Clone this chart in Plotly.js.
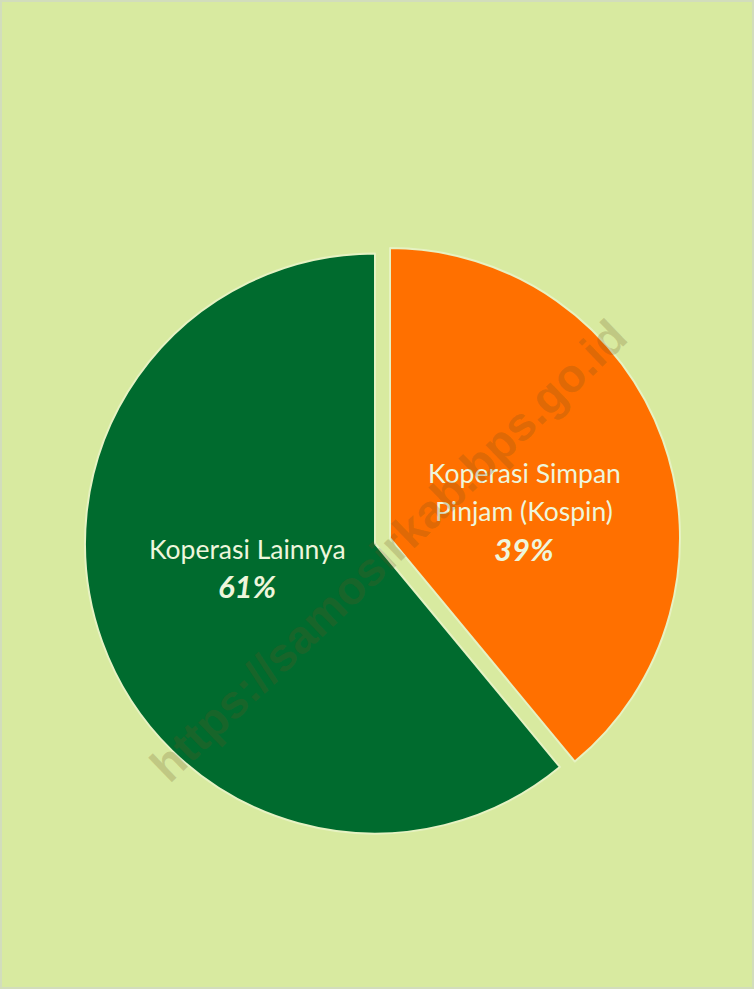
<!DOCTYPE html>
<html>
<head>
<meta charset="utf-8">
<script src="https://cdn.plot.ly/plotly-3.0.1.min.js"></script>
<style>html,body{margin:0;padding:0;background:#d8eaa0;}</style>
</head>
<body>
<div id="chart" style="width:754px;height:989px;"></div>
<script>
// ---- data ----
var categories = ['Koperasi Simpan Pinjam (Kospin)', 'Koperasi Lainnya'];
var labelLines = [['Koperasi Simpan', 'Pinjam (Kospin)'], ['Koperasi Lainnya']];
var values = [39, 61];
var sliceColors = ['#ff7000', '#006b2e'];
var watermark = 'https://samosirkab.bps.go.id';

// ---- label placement (pixel centres of each text line) ----
var W = 754, H = 989;
var labelPos = [
  {x: 524, ys: [473, 511], pctY: 549},
  {x: 247, ys: [549], pctY: 586}
];
function px(x) { return x / W; }
function py(y) { return 1 - y / H; }

var annotations = [];
labelLines.forEach(function (lines, i) {
  lines.forEach(function (ln, j) {
    annotations.push({
      xref: 'paper', yref: 'paper', x: px(labelPos[i].x), y: py(labelPos[i].ys[j]),
      xanchor: 'center', yanchor: 'middle', showarrow: false, text: ln,
      font: {family: 'Lato, "Open Sans", sans-serif', size: 26.5, color: '#eef6dc'}
    });
  });
  annotations.push({
    xref: 'paper', yref: 'paper', x: px(labelPos[i].x), y: py(labelPos[i].pctY),
    xanchor: 'center', yanchor: 'middle', showarrow: false,
    text: '<b><i>' + values[i] + '%</i></b>',
    font: {family: 'Lato, "Open Sans", sans-serif', size: 31, color: '#eef6dc'}
  });
});
// watermark
annotations.push({
  xref: 'paper', yref: 'paper', x: px(388), y: py(550), xanchor: 'center', yanchor: 'middle',
  showarrow: false, text: '<b>' + watermark + '</b>', textangle: -44,
  font: {family: 'Liberation Sans, Arial, sans-serif', size: 47, color: 'rgba(110,80,30,0.22)'}
});

// pie centre (375, 543.5), radius 290, pull 0.055
var cx = 375, cy = 543.5, half = 290 * 1.055;
var trace = {
  type: 'pie',
  labels: categories,
  values: values,
  sort: false,
  direction: 'clockwise',
  rotation: 0,
  pull: [0.055, 0],
  textinfo: 'none',
  hoverinfo: 'label+percent',
  marker: {colors: sliceColors, line: {color: '#e6f2c2', width: 2}},
  domain: {x: [(cx - half) / W, (cx + half) / W], y: [1 - (cy + half) / H, 1 - (cy - half) / H]},
  showlegend: false
};

var layout = {
  width: W, height: H,
  margin: {l: 0, r: 0, t: 0, b: 0},
  paper_bgcolor: '#d8eaa0',
  plot_bgcolor: '#d8eaa0',
  showlegend: false,
  annotations: annotations,
  shapes: [{type: 'rect', xref: 'paper', yref: 'paper', x0: 0, x1: 1, y0: 0, y1: 1,
            line: {color: '#d2ddbc', width: 4}, fillcolor: 'rgba(0,0,0,0)'}]
};

Plotly.newPlot('chart', [trace], layout, {displayModeBar: false, staticPlot: true});
</script>
</body>
</html>
